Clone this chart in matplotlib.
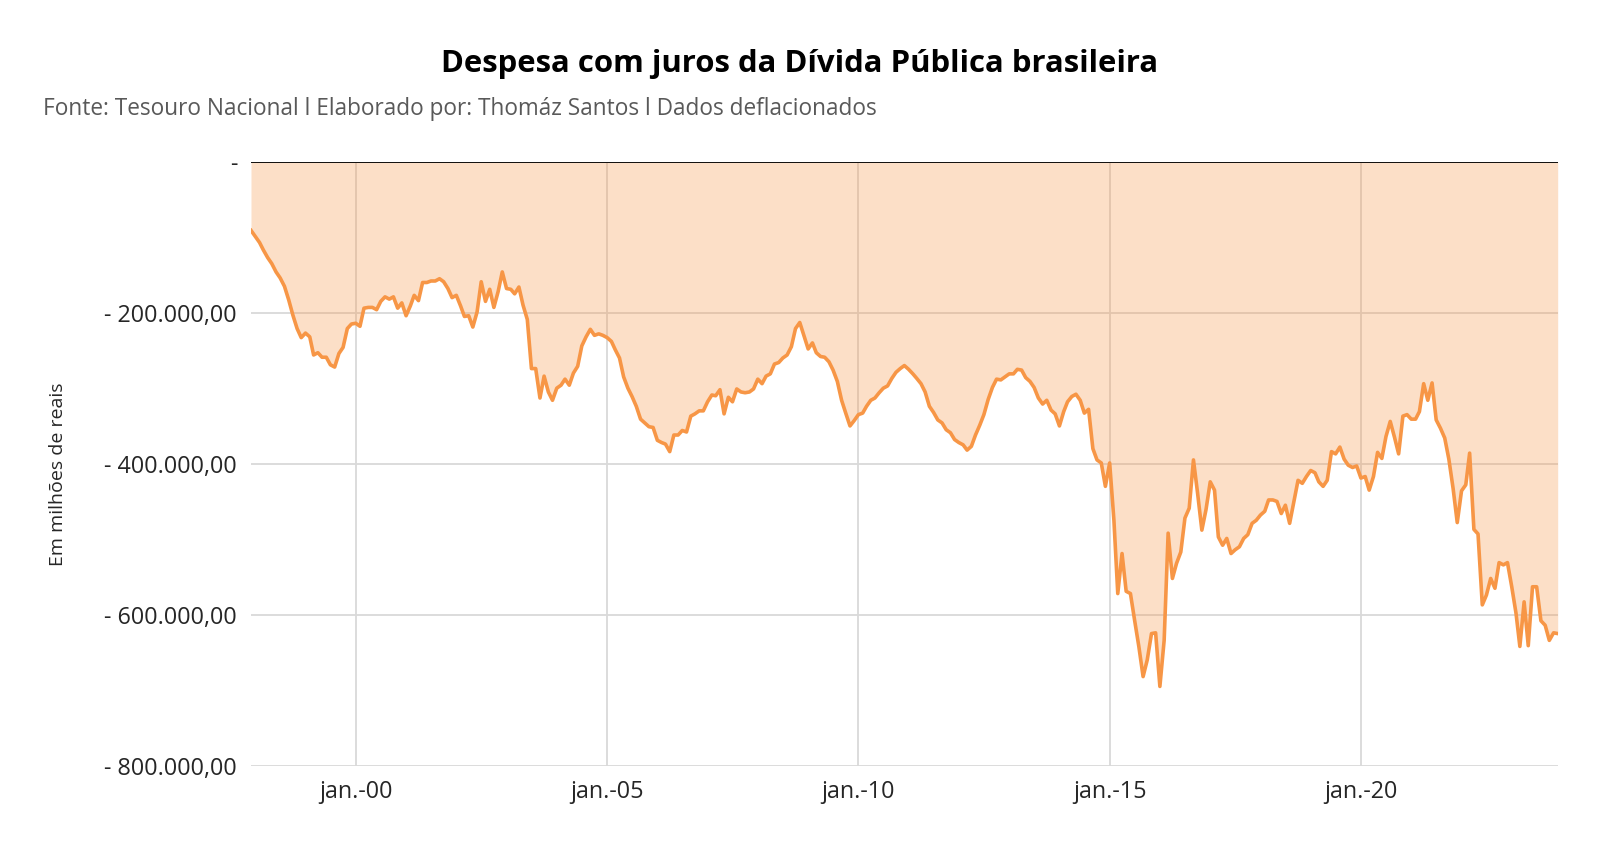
import pandas as pd
import matplotlib
matplotlib.use("Agg")
import matplotlib.pyplot as plt
import matplotlib.dates as mdates
from matplotlib.ticker import FuncFormatter, MultipleLocator

# despesa mensal com juros, em milhares de milhões de reais
# dez/1997 e depois jan..dez de cada ano até 2023
juros_1997 = [-91]
juros_1998 = [-99, -107, -117, -127, -135, -146, -154, -165, -183, -203, -221, -233]
juros_1999 = [-227, -232, -256, -253, -259, -259, -269, -272, -254, -246, -221, -215]
juros_2000 = [-214, -218, -194, -193, -193, -196, -185, -179, -182, -179, -194, -187]
juros_2001 = [-204, -191, -177, -184, -160, -160, -158, -158, -155, -159, -168, -180]
juros_2002 = [-177, -191, -205, -204, -219, -199, -159, -185, -169, -193, -172, -146]
juros_2003 = [-168, -169, -175, -166, -190, -209, -274, -274, -313, -284, -305, -316]
juros_2004 = [-300, -296, -288, -296, -280, -271, -244, -232, -222, -230, -228, -230]
juros_2005 = [-233, -238, -249, -260, -285, -300, -311, -324, -341, -346, -351, -352]
juros_2006 = [-369, -372, -374, -384, -362, -362, -356, -358, -337, -334, -330, -330]
juros_2007 = [-318, -309, -310, -302, -334, -312, -318, -301, -305, -306, -305, -301]
juros_2008 = [-288, -294, -284, -281, -268, -266, -260, -256, -245, -221, -213, -230]
juros_2009 = [-248, -240, -253, -258, -259, -265, -276, -291, -316, -333, -350, -343]
juros_2010 = [-335, -333, -324, -316, -313, -306, -300, -297, -287, -279, -274, -270]
juros_2011 = [-275, -281, -287, -294, -305, -324, -332, -342, -346, -355, -359, -368]
juros_2012 = [-372, -375, -382, -377, -362, -349, -335, -315, -299, -288, -289, -285]
juros_2013 = [-281, -281, -275, -276, -286, -291, -299, -313, -321, -316, -329, -334]
juros_2014 = [-350, -331, -318, -311, -308, -316, -333, -328, -380, -395, -399, -430]
juros_2015 = [-399, -475, -572, -519, -569, -572, -607, -642, -682, -660, -625, -624]
juros_2016 = [-695, -634, -492, -552, -532, -517, -472, -459, -395, -439, -488, -461]
juros_2017 = [-424, -435, -497, -508, -499, -519, -514, -510, -499, -494, -479, -475]
juros_2018 = [-468, -463, -448, -448, -450, -466, -455, -479, -450, -422, -426, -417]
juros_2019 = [-409, -412, -424, -430, -422, -384, -387, -378, -394, -402, -405, -403]
juros_2020 = [-419, -417, -435, -417, -385, -393, -364, -344, -365, -387, -337, -335]
juros_2021 = [-341, -341, -331, -294, -316, -293, -342, -353, -366, -394, -433, -478]
juros_2022 = [-436, -428, -386, -487, -493, -587, -574, -552, -565, -531, -534, -531]
juros_2023 = [-563, -598, -642, -583, -641, -563, -563, -608, -614, -634, -624, -625]

anos_ticks = [2000, 2005, 2010, 2015, 2020]
rotulos_x = ["jan.-00", "jan.-05", "jan.-10", "jan.-15", "jan.-20"]

titulo = "Despesa com juros da Dívida Pública brasileira"
subtitulo = "Fonte: Tesouro Nacional l Elaborado por: Thomáz Santos l Dados deflacionados"


def fmt_reais(v, pos):
    if abs(v) < 1:
        return "-"
    s = f"{abs(v):,.2f}".replace(",", "X").replace(".", ",").replace("X", ".")
    return "- " + s


def main():
    series = (juros_1997 + juros_1998 + juros_1999 + juros_2000 + juros_2001 + juros_2002
              + juros_2003 + juros_2004 + juros_2005 + juros_2006 + juros_2007 + juros_2008
              + juros_2009 + juros_2010 + juros_2011 + juros_2012 + juros_2013 + juros_2014
              + juros_2015 + juros_2016 + juros_2017 + juros_2018 + juros_2019 + juros_2020
              + juros_2021 + juros_2022 + juros_2023)
    valores = [v * 1000 for v in series]
    datas = pd.date_range("1997-12-01", periods=len(valores), freq="MS")

    plt.rcParams["font.family"] = ["Open Sans", "DejaVu Sans"]

    fig = plt.figure(figsize=(16, 8.47), dpi=100)
    ax = fig.add_axes([251 / 1600, 1 - 765.7 / 847, (1557.7 - 251) / 1600, (765.7 - 161.7) / 847])

    laranja = "#f79646"
    ax.fill_between(datas, valores, 0, color=laranja, alpha=0.3, lw=0, zorder=2)
    ax.plot(datas, valores, color=laranja, lw=2.6, zorder=3)
    ax.axhline(0, color="black", lw=1.3, zorder=4)

    ax.set_xlim(datas[0], datas[-1])
    ax.set_ylim(-800000, 0)
    ax.yaxis.set_major_locator(MultipleLocator(200000))
    ax.yaxis.set_major_formatter(FuncFormatter(fmt_reais))

    ax.set_xticks([pd.Timestamp(f"{a}-01-01") for a in anos_ticks])
    ax.set_xticklabels(rotulos_x)

    ax.set_axisbelow(True)
    ax.grid(True, color="#d9d9d9", lw=1.3)
    for s in ax.spines.values():
        s.set_visible(False)

    ax.tick_params(axis="both", length=0, labelsize=16.8, colors="#262626")
    ax.tick_params(axis="y", pad=10)
    ax.tick_params(axis="x", pad=10)

    fig.text(0.5, 1 - 64 / 847, titulo, ha="center", va="center",
             fontsize=22.4, fontweight="bold", color="black")
    fig.text(43 / 1600, 1 - 109 / 847, subtitulo, ha="left", va="center",
             fontsize=16.3, color="#595959")
    fig.text(58 / 1600, 1 - 474 / 847, "Em milhões de reais", rotation=90,
             ha="center", va="center", fontsize=14, color="#262626")

    fig.savefig("out.png", dpi=100)
    plt.close(fig)


if __name__ == "__main__":
    main()
